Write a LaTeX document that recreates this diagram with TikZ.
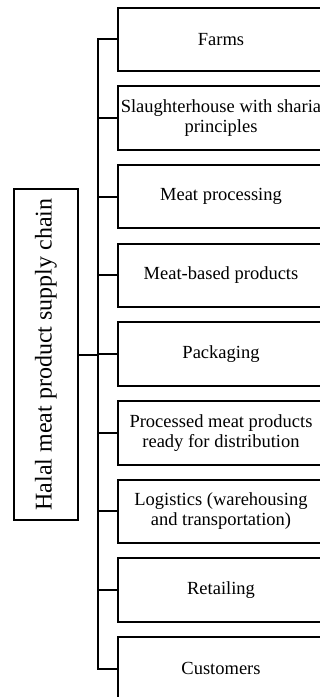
\documentclass[tikz,border=0pt]{standalone}
\usepackage{fontspec}
\setmainfont{Liberation Serif}
\begin{document}
\begin{tikzpicture}[x=1pt,y=-1pt,
  stagebox/.style={draw=black,line width=2pt,minimum width=206pt,minimum height=63.5pt,
    inner sep=1pt,align=center,font=\fontsize{18.5}{20}\selectfont},
  mainbox/.style={draw=black,line width=2pt,rotate=90,minimum width=331pt,minimum height=64pt,
    inner sep=1pt,font=\fontsize{24}{26}\selectfont},
  link/.style={line width=2pt,line cap=rect}]
\useasboundingbox (0,0) rectangle (320,697);
\clip (0,0) rectangle (320,697);
\node[mainbox] (main) at (46,354.5) {Halal meat product supply chain};
\node[stagebox] (b1) at (221,39.25) {Farms};
\node[stagebox] (b2) at (221,117.95) {Slaughterhouse with sharia\\principles};
\node[stagebox] (b3) at (221,196.65) {Meat processing};
\node[stagebox] (b4) at (221,275.35) {Meat-based products};
\node[stagebox] (b5) at (221,354.05) {Packaging};
\node[stagebox] (b6) at (221,432.75) {Processed meat products\\ready for distribution};
\node[stagebox] (b7) at (221,511.45) {Logistics (warehousing\\and transportation)};
\node[stagebox] (b8) at (221,590.15) {Retailing};
\node[stagebox] (b9) at (221,668.85) {Customers};
\foreach \i/\yy in {1/39.25,2/117.95,3/196.65,4/275.35,5/354.05,6/432.75,7/511.45,8/590.15,9/668.85}{
  \coordinate (c\i) at (98,\yy);
  \draw[line width=2pt] (b\i.west) -- (c\i);
}
\draw[link] (c1) -- (c9);
\coordinate (cm) at (98,354.5);
\draw[line width=2pt] (main.south) -- (cm);
\end{tikzpicture}
\end{document}
